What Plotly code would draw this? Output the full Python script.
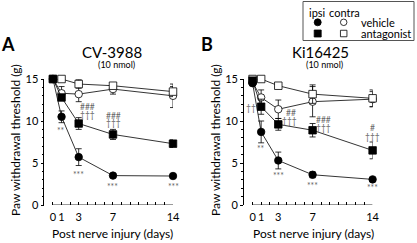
import plotly.graph_objects as go

W, H = 417, 243
FONT = "Lato"

days = [0, 1, 3, 7, 14]
xtick_vals = list(range(15))
xtick_text = ["0", "1", "", "3", "", "", "", "7", "", "", "", "", "", "", "14"]
ytick_vals = [0, 5, 10, 15]

# Panel A: CV-3988
A_ipsi_vehicle = [15.0, 10.5, 5.7, 3.5, 3.45]
A_ipsi_vehicle_err = [0.0, 0.7, 1.0, 0.25, 0.25]
A_ipsi_antag = [15.0, 12.8, 9.7, 8.4, 7.3]
A_ipsi_antag_err = [0.0, 0.3, 0.7, 0.6, 0.45]
A_contra_vehicle = [15.0, 13.3, 13.2, 13.8, 13.0]
A_contra_vehicle_err = [0.0, 0.8, 0.9, 0.6, 1.4]
A_contra_antag = [15.0, 15.0, 14.4, 14.2, 13.5]
A_contra_antag_err = [0.0, 0.2, 0.5, 0.3, 0.6]

# Panel B: Ki16425
B_ipsi_vehicle = [14.5, 8.7, 5.3, 3.6, 3.05]
B_ipsi_vehicle_err = [0.3, 1.3, 1.0, 0.35, 0.15]
B_ipsi_antag = [14.8, 11.7, 9.6, 8.9, 6.5]
B_ipsi_antag_err = [0.4, 0.9, 0.7, 0.8, 1.0]
B_contra_vehicle = [14.6, 12.8, 11.4, 12.3, 12.6]
B_contra_vehicle_err = [0.0, 0.9, 1.1, 1.8, 0.9]
B_contra_antag = [15.0, 15.0, 14.2, 13.2, 12.7]
B_contra_antag_err = [0.0, 0.2, 0.3, 1.1, 1.0]

# significance labels (text, day, value)
A_sig_text = ["**", "***", "***", "***", "###", "†††", "###", "†††", "###", "†††"]
A_sig_x = [0.9, 3.0, 7.0, 14.0, 4.0, 4.0, 7.05, 7.05, 14.05, 14.05]
A_sig_y = [8.8, 3.6, 2.1, 2.1, 11.65, 10.75, 10.65, 9.75, 9.55, 8.55]
B_sig_text = ["††", "**", "***", "***", "***", "##", "†††", "###", "†††", "#", "†††"]
B_sig_x = [-0.15, 1.0, 3.0, 7.0, 14.0, 4.5, 4.3, 8.3, 8.3, 14.0, 14.0]
B_sig_y = [11.6, 6.7, 3.4, 2.3, 2.0, 10.95, 9.95, 10.15, 9.2, 9.15, 8.05]

titles = ["CV-3988", "Ki16425"]
subtitle = "(10 nmol)"
panel_letters = ["A", "B"]
ytitle = "Paw withdrawal threshold (g)"
xtitle = "Post nerve injury (days)"

fig = go.Figure()

def add_series(xa, ya, vals, errs, symbol, filled):
    fig.add_trace(go.Scatter(
        x=days, y=vals, mode="lines+markers", xaxis=xa, yaxis=ya,
        line=dict(color="black", width=0.8),
        marker=dict(symbol=symbol, size=7.5,
                    color="black" if filled else "white",
                    line=dict(color="black", width=0.8)),
        error_y=dict(type="data", array=errs, color="black", thickness=0.8, width=3),
        cliponaxis=False, showlegend=False, hoverinfo="skip"))

panels = [
    ("x", "y", A_ipsi_vehicle, A_ipsi_vehicle_err, A_ipsi_antag, A_ipsi_antag_err,
     A_contra_vehicle, A_contra_vehicle_err, A_contra_antag, A_contra_antag_err),
    ("x2", "y2", B_ipsi_vehicle, B_ipsi_vehicle_err, B_ipsi_antag, B_ipsi_antag_err,
     B_contra_vehicle, B_contra_vehicle_err, B_contra_antag, B_contra_antag_err),
]
for (xa, ya, iv, ive, ia, iae, cv, cve, ca, cae) in panels:
    add_series(xa, ya, cv, cve, "circle", False)
    add_series(xa, ya, ca, cae, "square", False)
    add_series(xa, ya, iv, ive, "circle", True)
    add_series(xa, ya, ia, iae, "square", True)

def px_x(p):
    return p / W

def px_y(p):
    return 1 - p / H

ydom = [px_y(205), px_y(79)]
xdomA = [px_x(44.4), px_x(173)]
xdomB = [px_x(244), px_x(372.6)]

def xaxis_cfg(dom, anchor):
    return dict(domain=dom, anchor=anchor, range=[-1, 14], tickvals=xtick_vals,
                ticktext=xtick_text, ticks="inside", ticklen=3, tickwidth=0.8,
                tickcolor="black", showline=False, zeroline=False, showgrid=False,
                ticklabelstandoff=4, automargin=False, tickangle=0,
                tickfont=dict(family=FONT, size=11, color="black"))

def yaxis_cfg(anchor):
    return dict(domain=ydom, anchor=anchor, range=[0, 15], tickvals=ytick_vals,
                ticks="outside", ticklen=3, tickwidth=0.8, tickcolor="black",
                showline=True, linecolor="black", linewidth=0.8,
                zeroline=False, showgrid=False, automargin=False,
                minor=dict(dtick=1, ticks="outside", ticklen=2, tickwidth=0.8,
                           tickcolor="black", showgrid=False),
                tickfont=dict(family=FONT, size=11, color="black"))

annotations = []
for txt, sx, sy in zip(A_sig_text, A_sig_x, A_sig_y):
    annotations.append(dict(text=txt, x=sx, y=sy, xref="x", yref="y", showarrow=False,
                            font=dict(family=FONT, size=8.5, color="#666")))
for txt, sx, sy in zip(B_sig_text, B_sig_x, B_sig_y):
    annotations.append(dict(text=txt, x=sx, y=sy, xref="x2", yref="y2", showarrow=False,
                            font=dict(family=FONT, size=8.5, color="#666")))

def ann(text, x, y, size, bold=False, angle=0, color="black", xanchor="center"):
    annotations.append(dict(text=f"<b>{text}</b>" if bold else text,
                            x=px_x(x), y=px_y(y), xref="paper", yref="paper",
                            showarrow=False, textangle=angle, xanchor=xanchor,
                            yanchor="middle", font=dict(family=FONT, size=size, color=color)))

for i, (cx, lx) in enumerate([(112, 8), (320, 207)]):
    ann(titles[i], cx, 52.5, 15)
    ann(subtitle, cx + 4, 64, 9)
    ann(panel_letters[i], lx, 44, 18, bold=True)
for yx, xx in [(15, 113), (215, 313.5)]:
    ann(ytitle, yx, 140, 12, angle=-90)
    ann(xtitle, xx, 233, 12)

# legend
ann("ipsi", 317.5, 12.5, 11)
ann("contra", 344.5, 12.5, 11)
ann("vehicle", 358.5, 22.3, 11, xanchor="left")
ann("antagonist", 358.5, 33.5, 11, xanchor="left")

leg_sym = ["circle", "circle", "square", "square"]
leg_fill = ["black", "white", "black", "white"]
leg_x = [317.7, 343.7, 317.7, 343.7]
leg_y = [22.3, 22.3, 33.5, 33.5]
for s, f, lx, ly in zip(leg_sym, leg_fill, leg_x, leg_y):
    fig.add_trace(go.Scatter(x=[lx], y=[-ly], mode="markers", xaxis="x3", yaxis="y3",
                             marker=dict(symbol=s, size=7 if f == "black" else 6.5, color=f,
                                         line=dict(color="black", width=0.8)),
                             showlegend=False, hoverinfo="skip", cliponaxis=False))

shapes = [
    dict(type="line", xref="x", yref="y", x0=0, x1=14, y0=0, y1=0,
         line=dict(color="black", width=0.8)),
    dict(type="line", xref="x2", yref="y2", x0=0, x1=14, y0=0, y1=0,
         line=dict(color="black", width=0.8)),
    dict(type="rect", xref="paper", yref="paper", x0=px_x(303), x1=px_x(414),
         y0=px_y(40.5), y1=px_y(1.5), line=dict(color="#555", width=1)),
]

fig.update_layout(
    width=W, height=H, margin=dict(l=0, r=0, t=0, b=0, autoexpand=False),
    paper_bgcolor="white", plot_bgcolor="rgba(0,0,0,0)",
    xaxis=xaxis_cfg(xdomA, "y"), yaxis=yaxis_cfg("x"),
    xaxis2=xaxis_cfg(xdomB, "y2"), yaxis2=yaxis_cfg("x2"),
    xaxis3=dict(domain=[0, 1], range=[0, W], visible=False, anchor="y3", automargin=False),
    yaxis3=dict(domain=[0, 1], range=[-H, 0], visible=False, anchor="x3", automargin=False),
    annotations=annotations, shapes=shapes, showlegend=False,
)

fig.write_html("out.html", config={"displayModeBar": False},
               post_script="document.body.style.margin='0';document.body.style.overflow='hidden';")
